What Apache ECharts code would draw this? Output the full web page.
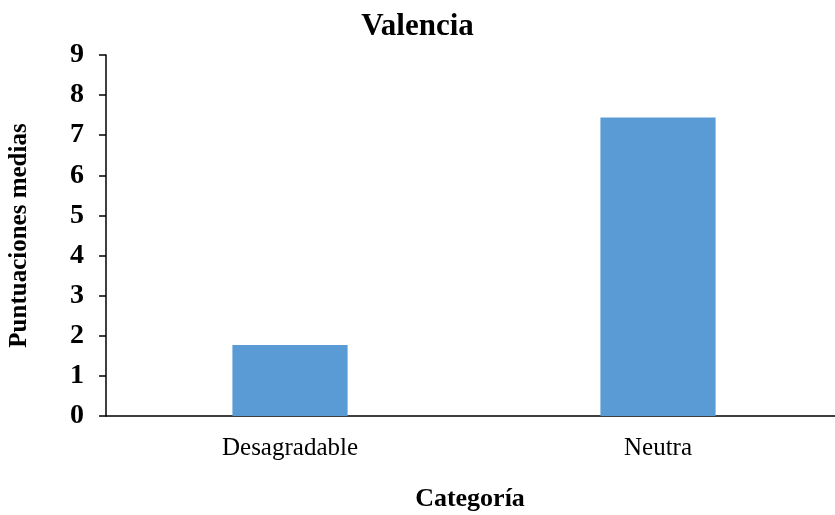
<!DOCTYPE html>
<html>
<head>
<meta charset="utf-8">
<script src="https://cdn.jsdelivr.net/npm/echarts@6/dist/echarts.min.js"></script>
<style>
  html, body { margin: 0; padding: 0; background: #fff; }
  #chart { width: 835px; height: 515px; }
</style>
</head>
<body>
<div id="chart"></div>
<script>
// Mean scores per category
const categories = ['Desagradable', 'Neutra'];
const meanScores = [1.77, 7.44];
const yTicks = [0, 1, 2, 3, 4, 5, 6, 7, 8, 9];

const serif = '"Liberation Serif", "Times New Roman", serif';

const chart = echarts.init(document.getElementById('chart'));
chart.setOption({
  animation: false,
  backgroundColor: '#ffffff',
  title: {
    text: 'Valencia',
    left: 'center',
    top: 6,
    textStyle: { fontFamily: serif, fontWeight: 'bold', fontSize: 31, color: '#000' }
  },
  grid: { left: 106, top: 55, width: 736, height: 361, outerBoundsMode: 'none', containLabel: false },
  xAxis: {
    type: 'category',
    data: categories,
    name: 'Categoría',
    nameLocation: 'middle',
    nameGap: 70,
    nameTextStyle: { fontFamily: serif, fontWeight: 'bold', fontSize: 26, color: '#000',
      padding: [0, 0, 0, -8] },
    axisLine: { lineStyle: { color: '#000', width: 1.5 } },
    axisTick: { show: false },
    axisLabel: { fontFamily: serif, fontSize: 25, color: '#000', margin: 20 }
  },
  yAxis: {
    type: 'value',
    min: yTicks[0],
    max: yTicks[yTicks.length - 1],
    interval: 1,
    name: 'Puntuaciones medias',
    nameLocation: 'middle',
    nameGap: 74,
    nameTextStyle: { fontFamily: serif, fontWeight: 'bold', fontSize: 25, color: '#000' },
    axisLine: { show: true, lineStyle: { color: '#000', width: 1.5 } },
    axisTick: { show: true, length: 7, lineStyle: { color: '#000', width: 1.5 } },
    splitLine: { show: false },
    axisLabel: { fontFamily: serif, fontWeight: 'bold', fontSize: 28, color: '#000', margin: 22 }
  },
  series: [{
    type: 'bar',
    data: meanScores,
    barWidth: '31.3%',
    itemStyle: { color: '#5B9BD5' }
  }]
});
</script>
</body>
</html>
